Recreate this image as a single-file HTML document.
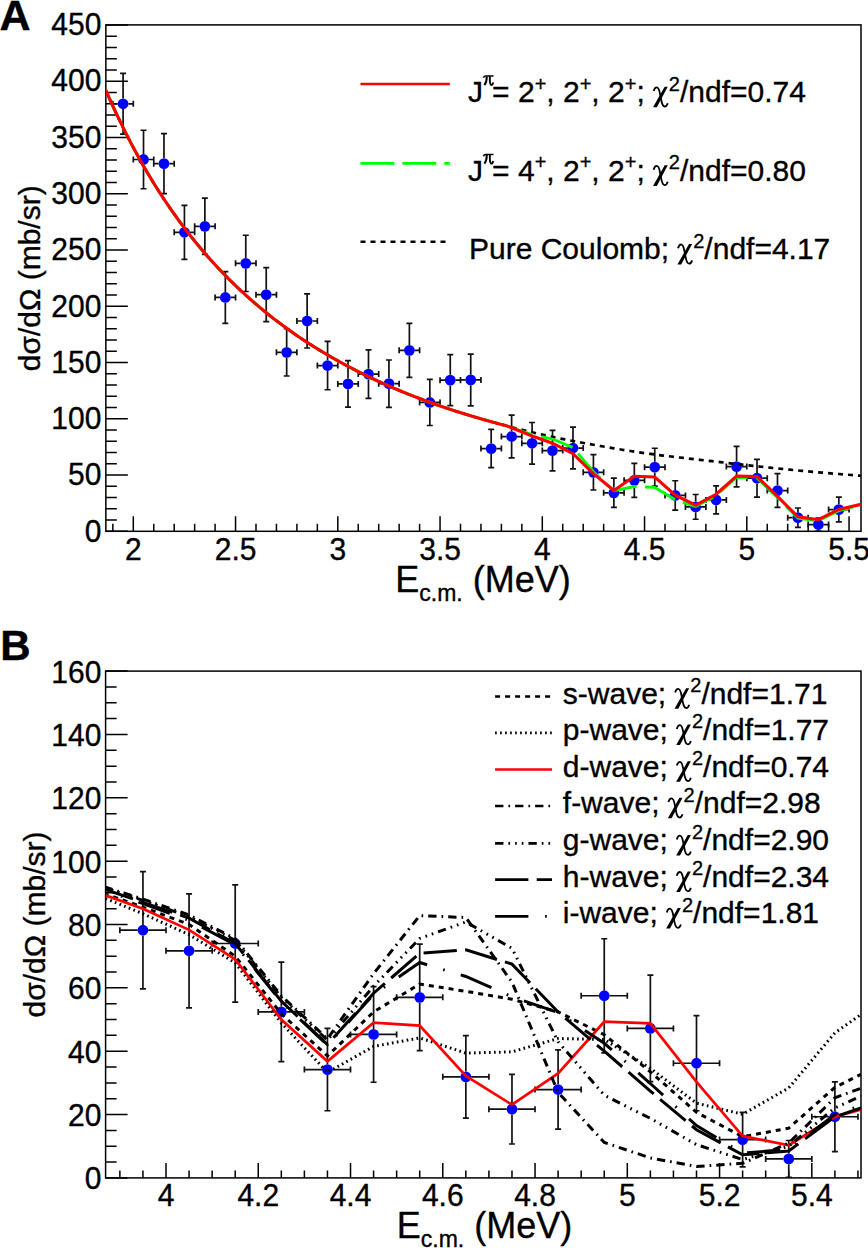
<!DOCTYPE html>
<html><head><meta charset="utf-8"><style>
html,body{margin:0;padding:0;background:#fff;overflow:hidden;width:868px;height:1248px;}
svg{display:block;}
.t{font-family:"Liberation Sans",sans-serif;font-size:30px;fill:#000;stroke:#000;stroke-width:0.35px;}
.ti{font-family:"Liberation Sans",sans-serif;font-size:30px;fill:#000;}
.gr{font-family:"Liberation Serif",serif;font-style:italic;}
</style></head><body>
<svg width="868" height="1248" viewBox="0 0 868 1248">
<rect width="868" height="1248" fill="#fff"/>
<defs>
<clipPath id="cA"><rect x="105.85" y="24.9" width="755.15" height="506.4"/></clipPath>
<clipPath id="cB"><rect x="105.6" y="671.1" width="755.4" height="506.8"/></clipPath>
</defs>

<text x="-0.5" y="29.6" style="font-family:'Liberation Sans',sans-serif;font-weight:bold;font-size:43px;stroke:#000;stroke-width:0.4px">A</text>
<text x="0.3" y="660.4" style="font-family:'Liberation Sans',sans-serif;font-weight:bold;font-size:42px;stroke:#000;stroke-width:0.4px">B</text>
<path d="M105.85 531.3h22 M105.85 520.05h11 M105.85 508.79h11 M105.85 497.54h11 M105.85 486.29h11 M105.85 475.03h22 M105.85 463.78h11 M105.85 452.53h11 M105.85 441.27h11 M105.85 430.02h11 M105.85 418.77h22 M105.85 407.51h11 M105.85 396.26h11 M105.85 385.01h11 M105.85 373.75h11 M105.85 362.5h22 M105.85 351.25h11 M105.85 339.99h11 M105.85 328.74h11 M105.85 317.49h11 M105.85 306.23h22 M105.85 294.98h11 M105.85 283.73h11 M105.85 272.47h11 M105.85 261.22h11 M105.85 249.97h22 M105.85 238.71h11 M105.85 227.46h11 M105.85 216.21h11 M105.85 204.95h11 M105.85 193.7h22 M105.85 182.45h11 M105.85 171.19h11 M105.85 159.94h11 M105.85 148.69h11 M105.85 137.43h22 M105.85 126.18h11 M105.85 114.93h11 M105.85 103.67h11 M105.85 92.42h11 M105.85 81.17h22 M105.85 69.91h11 M105.85 58.66h11 M105.85 47.41h11 M105.85 36.15h11 M105.85 24.9h22 M112.85 531.3v-7.5 M133.3 531.3v-15 M153.75 531.3v-7.5 M174.2 531.3v-7.5 M194.65 531.3v-7.5 M215.1 531.3v-7.5 M235.55 531.3v-15 M256 531.3v-7.5 M276.45 531.3v-7.5 M296.9 531.3v-7.5 M317.35 531.3v-7.5 M337.8 531.3v-15 M358.25 531.3v-7.5 M378.7 531.3v-7.5 M399.15 531.3v-7.5 M419.6 531.3v-7.5 M440.05 531.3v-15 M460.5 531.3v-7.5 M480.95 531.3v-7.5 M501.4 531.3v-7.5 M521.85 531.3v-7.5 M542.3 531.3v-15 M562.75 531.3v-7.5 M583.2 531.3v-7.5 M603.65 531.3v-7.5 M624.1 531.3v-7.5 M644.55 531.3v-15 M665 531.3v-7.5 M685.45 531.3v-7.5 M705.9 531.3v-7.5 M726.35 531.3v-7.5 M746.8 531.3v-15 M767.25 531.3v-7.5 M787.7 531.3v-7.5 M808.15 531.3v-7.5 M828.6 531.3v-7.5 M849.05 531.3v-15" stroke="#000" stroke-width="1.5" fill="none"/>
<rect x="105.85" y="24.9" width="755.15" height="506.4" fill="none" stroke="#000" stroke-width="1.5"/>
<text transform="translate(101.4,541.6) scale(1,1.04)" text-anchor="end" class="t">0</text>
<text transform="translate(101.4,485.33) scale(1,1.04)" text-anchor="end" class="t">50</text>
<text transform="translate(101.4,429.07) scale(1,1.04)" text-anchor="end" class="t">100</text>
<text transform="translate(101.4,372.8) scale(1,1.04)" text-anchor="end" class="t">150</text>
<text transform="translate(101.4,316.53) scale(1,1.04)" text-anchor="end" class="t">200</text>
<text transform="translate(101.4,260.27) scale(1,1.04)" text-anchor="end" class="t">250</text>
<text transform="translate(101.4,204) scale(1,1.04)" text-anchor="end" class="t">300</text>
<text transform="translate(101.4,147.73) scale(1,1.04)" text-anchor="end" class="t">350</text>
<text transform="translate(101.4,91.47) scale(1,1.04)" text-anchor="end" class="t">400</text>
<text transform="translate(101.4,35.2) scale(1,1.04)" text-anchor="end" class="t">450</text>
<text transform="translate(133.3,559.8) scale(1,1.04)" text-anchor="middle" class="t">2</text>
<text transform="translate(235.55,559.8) scale(1,1.04)" text-anchor="middle" class="t">2.5</text>
<text transform="translate(337.8,559.8) scale(1,1.04)" text-anchor="middle" class="t">3</text>
<text transform="translate(440.05,559.8) scale(1,1.04)" text-anchor="middle" class="t">3.5</text>
<text transform="translate(542.3,559.8) scale(1,1.04)" text-anchor="middle" class="t">4</text>
<text transform="translate(644.55,559.8) scale(1,1.04)" text-anchor="middle" class="t">4.5</text>
<text transform="translate(746.8,559.8) scale(1,1.04)" text-anchor="middle" class="t">5</text>
<text transform="translate(849.05,559.8) scale(1,1.04)" text-anchor="middle" class="t">5.5</text>
<g clip-path="url(#cA)">
<path d="M123.08 73.4V98.49M123.08 109.09V134.17 M120.08 73.4h6 M120.08 134.17h6 M112.85 103.79H117.78M128.38 103.79H133.3 M112.85 100.79v6M133.3 100.79v6 M143.52 130.23V154.19M143.52 164.79V188.75 M140.52 130.23h6 M140.52 188.75h6 M133.3 159.49H138.22M148.82 159.49H153.75 M133.3 156.49v6M153.75 156.49v6 M163.97 133.72V158.35M163.97 168.95V193.59 M160.97 133.72h6 M160.97 193.59h6 M153.75 163.65H158.67M169.28 163.65H174.2 M153.75 160.65v6M174.2 160.65v6 M184.43 205.29V227M184.43 237.6V259.31 M181.43 205.29h6 M181.43 259.31h6 M174.2 232.3H179.12M189.73 232.3H194.65 M174.2 229.3v6M194.65 229.3v6 M204.88 198.2V221.04M204.88 231.64V254.47 M201.88 198.2h6 M201.88 254.47h6 M194.65 226.34H199.58M210.18 226.34H215.1 M194.65 223.34v6M215.1 223.34v6 M225.33 271.57V292.16M225.33 302.76V323.34 M222.33 271.57h6 M222.33 323.34h6 M215.1 297.46H220.03M230.63 297.46H235.55 M215.1 294.46v6M235.55 294.46v6 M245.77 235.23V258.06M245.77 268.66V291.49 M242.77 235.23h6 M242.77 291.49h6 M235.55 263.36H240.47M251.07 263.36H256 M235.55 260.36v6M256 260.36v6 M266.23 267.64V289.34M266.23 299.94V321.65 M263.23 267.64h6 M263.23 321.65h6 M256 294.64H260.93M271.53 294.64H276.45 M256 291.64v6M276.45 291.64v6 M286.68 328.74V347.07M286.68 357.67V376 M283.68 328.74h6 M283.68 376h6 M276.45 352.37H281.38M291.98 352.37H296.9 M276.45 349.37v6M296.9 349.37v6 M307.12 293.97V315.68M307.12 326.28V347.98 M304.12 293.97h6 M304.12 347.98h6 M296.9 320.98H301.82M312.43 320.98H317.35 M296.9 317.98v6M317.35 317.98v6 M327.58 341.34V360.24M327.58 370.84V389.73 M324.58 341.34h6 M324.58 389.73h6 M317.35 365.54H322.28M332.88 365.54H337.8 M317.35 362.54v6M337.8 362.54v6 M348.02 360.7V378.58M348.02 389.18V407.06 M345.02 360.7h6 M345.02 407.06h6 M337.8 383.88H342.72M353.32 383.88H358.25 M337.8 380.88v6M358.25 380.88v6 M368.48 349.9V368.79M368.48 379.39V398.29 M365.48 349.9h6 M365.48 398.29h6 M358.25 374.09H363.18M373.78 374.09H378.7 M358.25 371.09v6M378.7 371.09v6 M388.93 360.02V378.36M388.93 388.96V407.29 M385.93 360.02h6 M385.93 407.29h6 M378.7 383.66H383.62M394.23 383.66H399.15 M378.7 380.66v6M399.15 380.66v6 M409.38 323.34V345.05M409.38 355.65V377.35 M406.38 323.34h6 M406.38 377.35h6 M399.15 350.35H404.08M414.68 350.35H419.6 M399.15 347.35v6M419.6 347.35v6 M429.83 379.38V397.15M429.83 407.75V425.52 M426.83 379.38h6 M426.83 425.52h6 M419.6 402.45H424.53M435.13 402.45H440.05 M419.6 399.45v6M440.05 399.45v6 M450.27 354.62V374.87M450.27 385.47V405.71 M447.27 354.62h6 M447.27 405.71h6 M440.05 380.17H444.97M455.57 380.17H460.5 M440.05 377.17v6M460.5 377.17v6 M470.72 354.06V374.64M470.72 385.24V405.83 M467.72 354.06h6 M467.72 405.83h6 M460.5 379.94H465.42M476.02 379.94H480.95 M460.5 376.94v6M480.95 376.94v6 M491.18 429.46V443.29M491.18 453.89V467.72 M488.18 429.46h6 M488.18 467.72h6 M480.95 448.59H485.88M496.48 448.59H501.4 M480.95 445.59v6M501.4 445.59v6 M511.63 415.17V431.25M511.63 441.85V457.93 M508.63 415.17h6 M508.63 457.93h6 M501.4 436.55H506.33M516.93 436.55H521.85 M501.4 433.55v6M521.85 433.55v6 M532.08 422.48V438M532.08 448.6V464.12 M529.08 422.48h6 M529.08 464.12h6 M521.85 443.3H526.78M537.38 443.3H542.3 M521.85 440.3v6M542.3 440.3v6 M552.52 430.36V445.31M552.52 455.91V470.87 M549.52 430.36h6 M549.52 470.87h6 M542.3 450.61H547.23M557.82 450.61H562.75 M542.3 447.61v6M562.75 447.61v6 M572.98 427.21V442.73M572.98 453.33V468.84 M569.98 427.21h6 M569.98 468.84h6 M562.75 448.03H567.68M578.28 448.03H583.2 M562.75 445.03v6M583.2 445.03v6 M593.42 454.67V467.03M593.42 477.63V490 M590.42 454.67h6 M590.42 490h6 M583.2 472.33H588.12M598.72 472.33H603.65 M583.2 469.33v6M603.65 469.33v6 M613.88 478.18V487.51M613.88 498.11V507.44 M610.88 478.18h6 M610.88 507.44h6 M603.65 492.81H608.58M619.17 492.81H624.1 M603.65 489.81v6M624.1 489.81v6 M634.33 463.33V475.02M634.33 485.62V497.32 M631.33 463.33h6 M631.33 497.32h6 M624.1 480.32H629.03M639.62 480.32H644.55 M624.1 477.32v6M644.55 477.32v6 M654.77 448.25V461.86M654.77 472.46V486.06 M651.77 448.25h6 M651.77 486.06h6 M644.55 467.16H649.47M660.07 467.16H665 M644.55 464.16v6M665 464.16v6 M675.23 480.77V490.1M675.23 500.7V510.03 M672.23 480.77h6 M672.23 510.03h6 M665 495.4H669.93M680.53 495.4H685.45 M665 492.4v6M685.45 492.4v6 M695.67 494.5V501.58M695.67 512.18V519.26 M692.67 494.5h6 M692.67 519.26h6 M685.45 506.88H690.38M700.97 506.88H705.9 M685.45 503.88v6M705.9 503.88v6 M716.12 485.84V494.6M716.12 505.2V513.97 M713.12 485.84h6 M713.12 513.97h6 M705.9 499.9H710.83M721.42 499.9H726.35 M705.9 496.9v6M726.35 496.9v6 M736.58 446.34V461.29M736.58 471.89V486.85 M733.58 446.34h6 M733.58 486.85h6 M726.35 466.59H731.28M741.88 466.59H746.8 M726.35 463.59v6M746.8 463.59v6 M757.02 459.28V472.88M757.02 483.48V497.09 M754.02 459.28h6 M754.02 497.09h6 M746.8 478.18H751.72M762.32 478.18H767.25 M746.8 475.18v6M767.25 475.18v6 M777.48 473.68V485.26M777.48 495.86V507.44 M774.48 473.68h6 M774.48 507.44h6 M767.25 490.56H772.18M782.78 490.56H787.7 M767.25 487.56v6M787.7 487.56v6 M797.92 508.01V512.38M797.92 522.98V527.36 M794.92 508.01h6 M794.92 527.36h6 M787.7 517.68H792.62M803.22 517.68H808.15 M787.7 514.68v6M808.15 514.68v6 M818.38 518.02V519.25M818.38 529.85V531.07 M815.38 518.02h6 M815.38 531.07h6 M808.15 524.55H813.08M823.67 524.55H828.6 M808.15 521.55v6M828.6 521.55v6 M838.83 497.2V504.28M838.83 514.88V521.96 M835.83 497.2h6 M835.83 521.96h6 M828.6 509.58H833.53M844.12 509.58H849.05 M828.6 506.58v6M849.05 506.58v6" stroke="#111" stroke-width="1.7" fill="none"/>
<g fill="#00f"><circle cx="123.08" cy="103.79" r="5.4"/><circle cx="143.52" cy="159.49" r="5.4"/><circle cx="163.97" cy="163.65" r="5.4"/><circle cx="184.43" cy="232.3" r="5.4"/><circle cx="204.88" cy="226.34" r="5.4"/><circle cx="225.33" cy="297.46" r="5.4"/><circle cx="245.77" cy="263.36" r="5.4"/><circle cx="266.23" cy="294.64" r="5.4"/><circle cx="286.68" cy="352.37" r="5.4"/><circle cx="307.12" cy="320.98" r="5.4"/><circle cx="327.58" cy="365.54" r="5.4"/><circle cx="348.02" cy="383.88" r="5.4"/><circle cx="368.48" cy="374.09" r="5.4"/><circle cx="388.93" cy="383.66" r="5.4"/><circle cx="409.38" cy="350.35" r="5.4"/><circle cx="429.83" cy="402.45" r="5.4"/><circle cx="450.27" cy="380.17" r="5.4"/><circle cx="470.72" cy="379.94" r="5.4"/><circle cx="491.18" cy="448.59" r="5.4"/><circle cx="511.63" cy="436.55" r="5.4"/><circle cx="532.08" cy="443.3" r="5.4"/><circle cx="552.52" cy="450.61" r="5.4"/><circle cx="572.98" cy="448.03" r="5.4"/><circle cx="593.42" cy="472.33" r="5.4"/><circle cx="613.88" cy="492.81" r="5.4"/><circle cx="634.33" cy="480.32" r="5.4"/><circle cx="654.77" cy="467.16" r="5.4"/><circle cx="675.23" cy="495.4" r="5.4"/><circle cx="695.67" cy="506.88" r="5.4"/><circle cx="716.12" cy="499.9" r="5.4"/><circle cx="736.58" cy="466.59" r="5.4"/><circle cx="757.02" cy="478.18" r="5.4"/><circle cx="777.48" cy="490.56" r="5.4"/><circle cx="797.92" cy="517.68" r="5.4"/><circle cx="818.38" cy="524.55" r="5.4"/><circle cx="838.83" cy="509.58" r="5.4"/></g>
<path d="M105.85 90.32 L106.72 92.31 L110.8 101.55 L114.89 110.49 L118.98 119.16 L123.08 127.57 L127.17 135.72 L131.25 143.63 L135.34 151.3 L139.43 158.75 L143.52 165.98 L147.61 173 L151.7 179.83 L155.79 186.46 L159.88 192.9 L163.97 199.17 L168.06 205.26 L172.16 211.19 L176.25 216.95 L180.34 222.57 L184.43 228.03 L188.52 233.35 L192.61 238.53 L196.7 243.58 L200.79 248.5 L204.88 253.29 L208.97 257.97 L213.06 262.52 L217.15 266.97 L221.24 271.3 L225.33 275.53 L229.42 279.66 L233.51 283.69 L237.59 287.62 L241.68 291.46 L245.77 295.21 L249.86 298.87 L253.95 302.45 L258.04 305.94 L262.13 309.36 L266.23 312.7 L270.31 315.97 L274.4 319.17 L278.5 322.29 L282.59 325.35 L286.68 328.34 L290.76 331.26 L294.86 334.12 L298.95 336.92 L303.04 339.67 L307.12 342.35 L311.22 344.98 L315.31 347.55 L319.4 350.07 L323.49 352.54 L327.58 354.95 L331.67 357.32 L335.76 359.64 L339.84 361.92 L343.93 364.14 L348.02 366.33 L352.12 368.47 L356.2 370.57 L360.29 372.63 L364.38 374.66 L368.48 376.64 L372.56 378.59 L376.65 380.51 L380.75 382.38 L384.84 384.22 L388.93 386.03 L393.02 387.8 L397.11 389.54 L401.2 391.25 L405.29 392.93 L409.38 394.57 L413.47 396.18 L417.56 397.76 L421.65 399.31 L425.74 400.83 L429.83 402.33 L433.92 403.79 L438.01 405.23 L442.09 406.64 L446.18 408.02 L450.27 409.38 L454.36 410.71 L458.45 412.02 L462.54 413.3 L466.63 414.56 L470.72 415.8 L474.81 417.02 L478.9 418.22 L483 419.4 L487.08 420.56 L491.18 421.7 L495.27 422.82 L499.36 423.93 L503.45 425.02 L507.54 426.1 L511.63 427.17 L515.72 428.22 L519.81 429.26 L523.89 430.28 L527.99 431.29 L532.08 432.28 L536.17 433.25 L540.26 434.2 L544.35 435.12 L548.44 436.03 L552.52 436.91 L556.62 437.77 L560.7 438.61 L564.8 439.42 L568.88 440.22 L572.98 441.01 L577.07 441.78 L581.16 442.54 L585.25 443.28 L589.34 444.03 L593.42 444.76 L597.51 445.49 L601.61 446.21 L605.69 446.93 L609.79 447.64 L613.88 448.34 L617.97 449.03 L622.05 449.71 L626.14 450.37 L630.23 451.01 L634.33 451.64 L638.41 452.25 L642.51 452.84 L646.6 453.41 L650.69 453.96 L654.77 454.5 L658.87 455.03 L662.95 455.54 L667.05 456.04 L671.13 456.53 L675.23 457.01 L679.32 457.49 L683.41 457.96 L687.49 458.43 L691.59 458.89 L695.67 459.36 L699.76 459.82 L703.86 460.28 L707.94 460.74 L712.04 461.2 L716.12 461.67 L720.22 462.14 L724.3 462.6 L728.39 463.07 L732.48 463.54 L736.58 464 L740.66 464.46 L744.76 464.92 L748.85 465.38 L752.94 465.83 L757.02 466.28 L761.12 466.73 L765.2 467.16 L769.3 467.6 L773.38 468.03 L777.48 468.45 L781.57 468.86 L785.66 469.27 L789.74 469.67 L793.84 470.07 L797.92 470.45 L802.01 470.83 L806.11 471.21 L810.19 471.58 L814.29 471.94 L818.38 472.3 L822.47 472.65 L826.55 473 L830.64 473.35 L834.73 473.69 L838.83 474.02 L842.91 474.35 L847.01 474.68 L851.1 475 L855.19 475.32 L859.27 475.63 L861 475.76" stroke="#000" stroke-width="2.7" fill="none" stroke-linejoin="miter" stroke-dasharray="5 5" stroke-dashoffset="0"/>
<path d="M105.85 90.32 L106.72 92.31 L110.8 101.55 L114.89 110.49 L118.98 119.16 L123.08 127.57 L127.17 135.72 L131.25 143.63 L135.34 151.3 L139.43 158.75 L143.52 165.98 L147.61 173 L151.7 179.83 L155.79 186.46 L159.88 192.9 L163.97 199.17 L168.06 205.26 L172.16 211.19 L176.25 216.95 L180.34 222.57 L184.43 228.03 L188.52 233.35 L192.61 238.53 L196.7 243.58 L200.79 248.5 L204.88 253.29 L208.97 257.97 L213.06 262.52 L217.15 266.97 L221.24 271.3 L225.33 275.53 L229.42 279.66 L233.51 283.69 L237.59 287.62 L241.68 291.46 L245.77 295.21 L249.86 298.87 L253.95 302.45 L258.04 305.94 L262.13 309.36 L266.23 312.7 L270.31 315.97 L274.4 319.17 L278.5 322.29 L282.59 325.35 L286.68 328.34 L290.76 331.26 L294.86 334.12 L298.95 336.92 L303.04 339.67 L307.12 342.35 L311.22 344.98 L315.31 347.55 L319.4 350.07 L323.49 352.54 L327.58 354.95 L331.67 357.32 L335.76 359.64 L339.84 361.92 L343.93 364.14 L348.02 366.33 L352.12 368.47 L356.2 370.57 L360.29 372.63 L364.38 374.66 L368.48 376.64 L372.56 378.59 L376.65 380.51 L380.75 382.38 L384.84 384.22 L388.93 386.03 L393.02 387.8 L397.11 389.54 L401.2 391.25 L405.29 392.93 L409.38 394.57 L413.47 396.18 L417.56 397.76 L421.65 399.31 L425.74 400.83 L429.83 402.33 L433.92 403.79 L438.01 405.23 L442.09 406.64 L446.18 408.02 L450.27 409.38 L454.36 410.71 L458.45 412.02 L462.54 413.3 L466.63 414.56 L470.72 415.8 L474.81 417.02 L478.9 418.22 L483 419.4 L487.08 420.56 L491.18 421.7 L495.27 422.82 L499.36 423.93 L503.45 425.02 L507.54 426.1 L511.63 427.77 L532.08 434.52 L552.52 439.02 L572.98 447.58 L593.42 471.77 L613.88 490.79 L634.33 486.51 L654.77 487.41 L675.23 499.79 L695.67 506.43 L716.12 495.51 L736.58 477.28 L757.02 477.85 L777.48 497.54 L797.92 518.02 L818.38 520.83 L838.83 510.59 L861 505.22" stroke="#00ff00" stroke-width="2.9" fill="none" stroke-linejoin="miter" stroke-dasharray="33.3 8.33" stroke-dashoffset="1.79"/>
<path d="M105.85 90.32 L106.72 92.31 L110.8 101.55 L114.89 110.49 L118.98 119.16 L123.08 127.57 L127.17 135.72 L131.25 143.63 L135.34 151.3 L139.43 158.75 L143.52 165.98 L147.61 173 L151.7 179.83 L155.79 186.46 L159.88 192.9 L163.97 199.17 L168.06 205.26 L172.16 211.19 L176.25 216.95 L180.34 222.57 L184.43 228.03 L188.52 233.35 L192.61 238.53 L196.7 243.58 L200.79 248.5 L204.88 253.29 L208.97 257.97 L213.06 262.52 L217.15 266.97 L221.24 271.3 L225.33 275.53 L229.42 279.66 L233.51 283.69 L237.59 287.62 L241.68 291.46 L245.77 295.21 L249.86 298.87 L253.95 302.45 L258.04 305.94 L262.13 309.36 L266.23 312.7 L270.31 315.97 L274.4 319.17 L278.5 322.29 L282.59 325.35 L286.68 328.34 L290.76 331.26 L294.86 334.12 L298.95 336.92 L303.04 339.67 L307.12 342.35 L311.22 344.98 L315.31 347.55 L319.4 350.07 L323.49 352.54 L327.58 354.95 L331.67 357.32 L335.76 359.64 L339.84 361.92 L343.93 364.14 L348.02 366.33 L352.12 368.47 L356.2 370.57 L360.29 372.63 L364.38 374.66 L368.48 376.64 L372.56 378.59 L376.65 380.51 L380.75 382.38 L384.84 384.22 L388.93 386.03 L393.02 387.8 L397.11 389.54 L401.2 391.25 L405.29 392.93 L409.38 394.57 L413.47 396.18 L417.56 397.76 L421.65 399.31 L425.74 400.83 L429.83 402.33 L433.92 403.79 L438.01 405.23 L442.09 406.64 L446.18 408.02 L450.27 409.38 L454.36 410.71 L458.45 412.02 L462.54 413.3 L466.63 414.56 L470.72 415.8 L474.81 417.02 L478.9 418.22 L483 419.4 L487.08 420.56 L491.18 421.7 L495.27 422.82 L499.36 423.93 L503.45 425.02 L507.54 426.1 L511.63 427.77 L532.08 435.98 L552.52 443.19 L572.98 453.65 L593.42 473.68 L613.88 490.45 L634.33 476.27 L654.77 477.06 L675.23 495.18 L695.67 505.19 L716.12 494.28 L736.58 476.05 L757.02 476.61 L777.48 496.41 L797.92 516.9 L818.38 519.71 L838.83 509.47 L861 504.34" stroke="#ff0000" stroke-width="3.1" fill="none" stroke-linejoin="miter"/>
</g>
<text transform="translate(39.9,371.3) rotate(-90)" class="t">dσ/dΩ (mb/sr)</text>
<text x="395.3" y="592.1" class="t" style="font-size:36px">E<tspan font-size="23" dy="8.5">c.m.</tspan><tspan dy="-8.5"> (MeV)</tspan></text>
<path d="M360.5 84H449.8" stroke="#f00" stroke-width="2.6"/>
<path d="M360.5 163.4H449.8" stroke="#0f0" stroke-width="2.6" stroke-dasharray="33.8 8.1"/>
<path d="M360.5 241.8H446" stroke="#000" stroke-width="2.6" stroke-dasharray="5 5"/>
<text x="468.1" y="102" class="t" style="white-space:pre">J</text>
<g transform="translate(483.1,86)" fill="none" stroke="#000"><path d="M0.3 -8.2C0.8 -9.4 1.5 -10.1 2.5 -10.1L10.4 -10.1" stroke-width="1.5"/><path d="M3.7 -9.6C3.7 -6 2.9 -3 1.3 -0.9" stroke-width="2"/><path d="M6.8 -9.6C6.6 -6 6.8 -2.2 7.8 -1.2C8.7 -0.6 9.6 -1.5 10.2 -3.6" stroke-width="1.9"/></g>
<text x="492.1" y="102" class="t" style="white-space:pre">= 2</text>
<text x="534.63" y="90.5" class="t" style="font-size:20px;stroke-width:0.3px">+</text>
<text x="546.32" y="102" class="t" style="white-space:pre">, 2</text>
<text x="579.66" y="90.5" class="t" style="font-size:20px;stroke-width:0.3px">+</text>
<text x="591.35" y="102" class="t" style="white-space:pre">, 2</text>
<text x="624.69" y="90.5" class="t" style="font-size:20px;stroke-width:0.3px">+</text>
<text x="636.38" y="102" class="t" style="white-space:pre">; </text>
<g transform="translate(653.04,102)"><path d="M11.6 -15.3L14.7 -15.3L3.8 5.3L0 5.3Z" fill="#000"/><path d="M0.6 -10.9C1.4 -13.6 2.4 -14.7 3.6 -14.7C5.4 -14.7 6.2 -12.5 6.9 -8.6L8.4 -1C9.2 3 10.3 4.5 11.8 4.5C13 4.5 14.1 3 14.7 1.2" fill="none" stroke="#000" stroke-width="1.8"/></g>
<text x="668.84" y="90.5" class="t" style="font-size:20px;stroke-width:0.3px">2</text>
<text x="679.96" y="102" class="t" style="white-space:pre">/ndf=0.74</text>
<text x="468.1" y="180.6" class="t" style="white-space:pre">J</text>
<g transform="translate(483.1,164.6)" fill="none" stroke="#000"><path d="M0.3 -8.2C0.8 -9.4 1.5 -10.1 2.5 -10.1L10.4 -10.1" stroke-width="1.5"/><path d="M3.7 -9.6C3.7 -6 2.9 -3 1.3 -0.9" stroke-width="2"/><path d="M6.8 -9.6C6.6 -6 6.8 -2.2 7.8 -1.2C8.7 -0.6 9.6 -1.5 10.2 -3.6" stroke-width="1.9"/></g>
<text x="492.1" y="180.6" class="t" style="white-space:pre">= 4</text>
<text x="534.63" y="169.1" class="t" style="font-size:20px;stroke-width:0.3px">+</text>
<text x="546.32" y="180.6" class="t" style="white-space:pre">, 2</text>
<text x="579.66" y="169.1" class="t" style="font-size:20px;stroke-width:0.3px">+</text>
<text x="591.35" y="180.6" class="t" style="white-space:pre">, 2</text>
<text x="624.69" y="169.1" class="t" style="font-size:20px;stroke-width:0.3px">+</text>
<text x="636.38" y="180.6" class="t" style="white-space:pre">; </text>
<g transform="translate(653.04,180.6)"><path d="M11.6 -15.3L14.7 -15.3L3.8 5.3L0 5.3Z" fill="#000"/><path d="M0.6 -10.9C1.4 -13.6 2.4 -14.7 3.6 -14.7C5.4 -14.7 6.2 -12.5 6.9 -8.6L8.4 -1C9.2 3 10.3 4.5 11.8 4.5C13 4.5 14.1 3 14.7 1.2" fill="none" stroke="#000" stroke-width="1.8"/></g>
<text x="668.84" y="169.1" class="t" style="font-size:20px;stroke-width:0.3px">2</text>
<text x="679.96" y="180.6" class="t" style="white-space:pre">/ndf=0.80</text>
<text x="469" y="259.2" class="t" style="white-space:pre">Pure Coulomb; </text>
<g transform="translate(677.44,259.2)"><path d="M11.6 -15.3L14.7 -15.3L3.8 5.3L0 5.3Z" fill="#000"/><path d="M0.6 -10.9C1.4 -13.6 2.4 -14.7 3.6 -14.7C5.4 -14.7 6.2 -12.5 6.9 -8.6L8.4 -1C9.2 3 10.3 4.5 11.8 4.5C13 4.5 14.1 3 14.7 1.2" fill="none" stroke="#000" stroke-width="1.8"/></g>
<text x="693.24" y="247.7" class="t" style="font-size:20px;stroke-width:0.3px">2</text>
<text x="704.36" y="259.2" class="t" style="white-space:pre">/ndf=4.17</text>
<path d="M105.6 1177.9h22 M105.6 1162.06h11 M105.6 1146.23h11 M105.6 1130.39h11 M105.6 1114.55h22 M105.6 1098.71h11 M105.6 1082.88h11 M105.6 1067.04h11 M105.6 1051.2h22 M105.6 1035.36h11 M105.6 1019.53h11 M105.6 1003.69h11 M105.6 987.85h22 M105.6 972.01h11 M105.6 956.18h11 M105.6 940.34h11 M105.6 924.5h22 M105.6 908.66h11 M105.6 892.83h11 M105.6 876.99h11 M105.6 861.15h22 M105.6 845.31h11 M105.6 829.48h11 M105.6 813.64h11 M105.6 797.8h22 M105.6 781.96h11 M105.6 766.13h11 M105.6 750.29h11 M105.6 734.45h22 M105.6 718.61h11 M105.6 702.78h11 M105.6 686.94h11 M105.6 671.1h22 M119.87 1177.9v-7.5 M142.94 1177.9v-7.5 M166 1177.9v-15 M189.06 1177.9v-7.5 M212.13 1177.9v-7.5 M235.2 1177.9v-7.5 M258.26 1177.9v-15 M281.32 1177.9v-7.5 M304.39 1177.9v-7.5 M327.45 1177.9v-7.5 M350.52 1177.9v-15 M373.59 1177.9v-7.5 M396.65 1177.9v-7.5 M419.71 1177.9v-7.5 M442.78 1177.9v-15 M465.85 1177.9v-7.5 M488.91 1177.9v-7.5 M511.98 1177.9v-7.5 M535.04 1177.9v-15 M558.1 1177.9v-7.5 M581.17 1177.9v-7.5 M604.24 1177.9v-7.5 M627.3 1177.9v-15 M650.37 1177.9v-7.5 M673.43 1177.9v-7.5 M696.5 1177.9v-7.5 M719.56 1177.9v-15 M742.62 1177.9v-7.5 M765.69 1177.9v-7.5 M788.75 1177.9v-7.5 M811.82 1177.9v-15 M834.89 1177.9v-7.5 M857.95 1177.9v-7.5" stroke="#000" stroke-width="1.5" fill="none"/>
<rect x="105.6" y="671.1" width="755.4" height="506.8" fill="none" stroke="#000" stroke-width="1.5"/>
<text transform="translate(101.4,1189.3) scale(1,1.04)" text-anchor="end" class="t">0</text>
<text transform="translate(101.4,1125.95) scale(1,1.04)" text-anchor="end" class="t">20</text>
<text transform="translate(101.4,1062.6) scale(1,1.04)" text-anchor="end" class="t">40</text>
<text transform="translate(101.4,999.25) scale(1,1.04)" text-anchor="end" class="t">60</text>
<text transform="translate(101.4,935.9) scale(1,1.04)" text-anchor="end" class="t">80</text>
<text transform="translate(101.4,872.55) scale(1,1.04)" text-anchor="end" class="t">100</text>
<text transform="translate(101.4,809.2) scale(1,1.04)" text-anchor="end" class="t">120</text>
<text transform="translate(101.4,745.85) scale(1,1.04)" text-anchor="end" class="t">140</text>
<text transform="translate(101.4,682.5) scale(1,1.04)" text-anchor="end" class="t">160</text>
<text transform="translate(166,1205.9) scale(1,1.04)" text-anchor="middle" class="t">4</text>
<text transform="translate(258.26,1205.9) scale(1,1.04)" text-anchor="middle" class="t">4.2</text>
<text transform="translate(350.52,1205.9) scale(1,1.04)" text-anchor="middle" class="t">4.4</text>
<text transform="translate(442.78,1205.9) scale(1,1.04)" text-anchor="middle" class="t">4.6</text>
<text transform="translate(535.04,1205.9) scale(1,1.04)" text-anchor="middle" class="t">4.8</text>
<text transform="translate(627.3,1205.9) scale(1,1.04)" text-anchor="middle" class="t">5</text>
<text transform="translate(719.56,1205.9) scale(1,1.04)" text-anchor="middle" class="t">5.2</text>
<text transform="translate(811.82,1205.9) scale(1,1.04)" text-anchor="middle" class="t">5.4</text>
<g clip-path="url(#cB)">
<path d="M142.94 871.6V924.9M142.94 935.5V988.8 M139.94 871.6h6 M139.94 988.8h6 M119.87 930.2H137.64M148.24 930.2H166 M119.87 927.2v6M166 927.2v6 M189.06 893.78V945.49M189.06 956.09V1007.81 M186.06 893.78h6 M186.06 1007.81h6 M166 950.79H183.76M194.36 950.79H212.13 M166 947.79v6M212.13 947.79v6 M235.2 884.91V938.21M235.2 948.81V1002.1 M232.2 884.91h6 M232.2 1002.1h6 M212.13 943.51H229.9M240.5 943.51H258.26 M212.13 940.51v6M258.26 940.51v6 M281.32 962.19V1006.62M281.32 1017.22V1061.65 M278.32 962.19h6 M278.32 1061.65h6 M258.26 1011.92H276.02M286.62 1011.92H304.39 M258.26 1008.92v6M304.39 1008.92v6 M327.45 1028.39V1064.27M327.45 1074.87V1110.75 M324.45 1028.39h6 M324.45 1110.75h6 M304.39 1069.57H322.15M332.75 1069.57H350.52 M304.39 1066.57v6M350.52 1066.57v6 M373.59 986.58V1029.11M373.59 1039.71V1082.24 M370.59 986.58h6 M370.59 1082.24h6 M350.52 1034.41H368.29M378.89 1034.41H396.65 M350.52 1031.41v6M396.65 1031.41v6 M419.71 944.14V992.05M419.71 1002.65V1050.57 M416.71 944.14h6 M416.71 1050.57h6 M396.65 997.35H414.41M425.01 997.35H442.78 M396.65 994.35v6M442.78 994.35v6 M465.85 1035.68V1071.56M465.85 1082.16V1118.03 M462.85 1035.68h6 M462.85 1118.03h6 M442.78 1076.86H460.55M471.15 1076.86H488.91 M442.78 1073.86v6M488.91 1073.86v6 M511.98 1074.32V1103.87M511.98 1114.47V1144.01 M508.98 1074.32h6 M508.98 1144.01h6 M488.91 1109.17H506.68M517.27 1109.17H535.04 M488.91 1106.17v6M535.04 1106.17v6 M558.1 1049.93V1084.23M558.1 1094.83V1129.12 M555.1 1049.93h6 M555.1 1129.12h6 M535.04 1089.53H552.8M563.4 1089.53H581.17 M535.04 1086.53v6M581.17 1086.53v6 M604.24 938.75V990.47M604.24 1001.07V1052.78 M601.24 938.75h6 M601.24 1052.78h6 M581.17 995.77H598.94M609.54 995.77H627.3 M581.17 992.77v6M627.3 992.77v6 M650.37 975.18V1023.09M650.37 1033.69V1081.61 M647.37 975.18h6 M647.37 1081.61h6 M627.3 1028.39H645.07M655.66 1028.39H673.43 M627.3 1025.39v6M673.43 1025.39v6 M696.5 1015.72V1057.94M696.5 1068.54V1110.75 M693.5 1015.72h6 M693.5 1110.75h6 M673.43 1063.24H691.2M701.8 1063.24H719.56 M673.43 1060.24v6M719.56 1060.24v6 M742.62 1112.33V1134.27M742.62 1144.87V1166.81 M739.62 1112.33h6 M739.62 1166.81h6 M719.56 1139.57H737.33M747.92 1139.57H765.69 M719.56 1136.57v6M765.69 1136.57v6 M788.75 1140.52V1153.6M788.75 1164.19V1177.27 M785.75 1140.52h6 M785.75 1177.27h6 M765.69 1158.89H783.45M794.05 1158.89H811.82 M765.69 1155.89v6M811.82 1155.89v6 M834.89 1081.92V1111.47M834.89 1122.07V1151.61 M831.89 1081.92h6 M831.89 1151.61h6 M811.82 1116.77H829.59M840.19 1116.77H857.95 M811.82 1113.77v6M857.95 1113.77v6" stroke="#111" stroke-width="1.7" fill="none"/>
<g fill="#00f"><circle cx="142.94" cy="930.2" r="5.4"/><circle cx="189.06" cy="950.79" r="5.4"/><circle cx="235.2" cy="943.51" r="5.4"/><circle cx="281.32" cy="1011.92" r="5.4"/><circle cx="327.45" cy="1069.57" r="5.4"/><circle cx="373.59" cy="1034.41" r="5.4"/><circle cx="419.71" cy="997.35" r="5.4"/><circle cx="465.85" cy="1076.86" r="5.4"/><circle cx="511.98" cy="1109.17" r="5.4"/><circle cx="558.1" cy="1089.53" r="5.4"/><circle cx="604.24" cy="995.77" r="5.4"/><circle cx="650.37" cy="1028.39" r="5.4"/><circle cx="696.5" cy="1063.24" r="5.4"/><circle cx="742.62" cy="1139.57" r="5.4"/><circle cx="788.75" cy="1158.89" r="5.4"/><circle cx="834.89" cy="1116.77" r="5.4"/></g>
<path d="M105.6 894.09 L142.94 907.08 L189.06 924.5 L235.2 956.18 L281.32 1013.82 L327.45 1055.95 L373.59 1011.92 L419.71 984.05 L465.85 991.33 L511.98 999.25 L558.1 1011.92 L604.24 1034.73 L650.37 1071.79 L696.5 1112.33 L742.62 1136.72 L788.75 1128.17 L834.89 1087.31 L861 1074.32" stroke="#000" stroke-width="3.0" fill="none" stroke-linejoin="miter" stroke-dasharray="5 5" stroke-dashoffset="2.02"/>
<path d="M105.6 898.53 L142.94 913.73 L189.06 934.64 L235.2 962.83 L281.32 1023.01 L327.45 1072.42 L373.59 1046.45 L419.71 1037.9 L465.85 1053.1 L511.98 1051.83 L558.1 1038.53 L604.24 1039.48 L650.37 1068.3 L696.5 1103.15 L742.62 1114.23 L788.75 1087.94 L834.89 1032.83 L861 1014.46" stroke="#000" stroke-width="3.0" fill="none" stroke-linejoin="miter" stroke-dasharray="1.67 3.33"/>
<path d="M105.6 895.36 L142.94 908.66 L189.06 929.88 L235.2 959.34 L281.32 1019.53 L327.45 1061.34 L373.59 1022.69 L419.71 1025.54 L465.85 1075.91 L511.98 1104.73 L558.1 1073.37 L604.24 1021.74 L650.37 1023.33 L696.5 1081.92 L742.62 1136.09 L788.75 1145.27 L834.89 1116.77 L861 1109.48" stroke="#ff0000" stroke-width="2.7" fill="none" stroke-linejoin="miter"/>
<path d="M105.6 887.12 L142.94 899.16 L189.06 915 L235.2 938.75 L281.32 995.77 L327.45 1038.85 L373.59 973.6 L419.71 915.63 L465.85 917.53 L511.98 982.15 L558.1 1092.38 L604.24 1142.42 L650.37 1157.94 L696.5 1166.5 L742.62 1163.33 L788.75 1143.06 L834.89 1097.76 L861 1088.26" stroke="#000" stroke-width="3.0" fill="none" stroke-linejoin="miter" stroke-dasharray="8.33 5 1.67 5" stroke-dashoffset="1.16"/>
<path d="M105.6 888.07 L142.94 900.43 L189.06 916.58 L235.2 940.34 L281.32 997.35 L327.45 1040.11 L373.59 986.27 L419.71 938.44 L465.85 921.97 L511.98 948.26 L558.1 1041.7 L604.24 1095.23 L650.37 1118.35 L696.5 1144.64 L742.62 1159.53 L788.75 1146.23 L834.89 1107.9 L861 1096.18" stroke="#000" stroke-width="3.0" fill="none" stroke-linejoin="miter" stroke-dasharray="8.33 5 1.67 5 1.67 5 1.67 5" stroke-dashoffset="0.31"/>
<path d="M105.6 889.66 L142.94 902.33 L189.06 918.17 L235.2 943.51 L281.32 1001.15 L327.45 1044.55 L373.59 993.23 L419.71 953.32 L465.85 949.84 L511.98 964.09 L558.1 1011.92 L604.24 1051.2 L650.37 1091.11 L696.5 1129.75 L742.62 1154.78 L788.75 1150.98 L834.89 1116.77 L861 1107.9" stroke="#000" stroke-width="3.0" fill="none" stroke-linejoin="miter" stroke-dasharray="33.3 8.33" stroke-dashoffset="4.4"/>
<path d="M105.6 890.92 L142.94 903.59 L189.06 920.38 L235.2 944.77 L281.32 1001.79 L327.45 1045.18 L373.59 994.5 L419.71 962.51 L465.85 976.45 L511.98 996.72 L558.1 1012.56 L604.24 1043.28 L650.37 1083.51 L696.5 1125.64 L742.62 1153.19 L788.75 1149.39 L834.89 1114.55 L861 1105.68" stroke="#000" stroke-width="3.0" fill="none" stroke-linejoin="miter" stroke-dasharray="33.3 16.7 1.67 16.7" stroke-dashoffset="33.72"/>
</g>
<text transform="translate(45.3,1017.5) rotate(-90)" class="t">dσ/dΩ (mb/sr)</text>
<text x="396.8" y="1238.4" class="t" style="font-size:36px">E<tspan font-size="23" dy="8.5">c.m.</tspan><tspan dy="-8.5"> (MeV)</tspan></text>
<path d="M495.1 696.5H552" stroke="#000" stroke-width="2.7" stroke-dasharray="5 5"/>
<text x="562.8" y="703.5" class="t" style="white-space:pre">s-wave; </text>
<g transform="translate(674.49,703.5)"><path d="M11.6 -15.3L14.7 -15.3L3.8 5.3L0 5.3Z" fill="#000"/><path d="M0.6 -10.9C1.4 -13.6 2.4 -14.7 3.6 -14.7C5.4 -14.7 6.2 -12.5 6.9 -8.6L8.4 -1C9.2 3 10.3 4.5 11.8 4.5C13 4.5 14.1 3 14.7 1.2" fill="none" stroke="#000" stroke-width="1.8"/></g>
<text x="690.29" y="692" class="t" style="font-size:20px;stroke-width:0.3px">2</text>
<text x="701.41" y="703.5" class="t" style="white-space:pre">/ndf=1.71</text>
<path d="M495.1 732.8H552" stroke="#000" stroke-width="2.7" stroke-dasharray="1.67 3.33"/>
<text x="562.8" y="739.8" class="t" style="white-space:pre">p-wave; </text>
<g transform="translate(676.17,739.8)"><path d="M11.6 -15.3L14.7 -15.3L3.8 5.3L0 5.3Z" fill="#000"/><path d="M0.6 -10.9C1.4 -13.6 2.4 -14.7 3.6 -14.7C5.4 -14.7 6.2 -12.5 6.9 -8.6L8.4 -1C9.2 3 10.3 4.5 11.8 4.5C13 4.5 14.1 3 14.7 1.2" fill="none" stroke="#000" stroke-width="1.8"/></g>
<text x="691.97" y="728.3" class="t" style="font-size:20px;stroke-width:0.3px">2</text>
<text x="703.1" y="739.8" class="t" style="white-space:pre">/ndf=1.77</text>
<path d="M495.1 769.5H552" stroke="#ff0000" stroke-width="2.7"/>
<text x="562.8" y="776.5" class="t" style="white-space:pre">d-wave; </text>
<g transform="translate(676.17,776.5)"><path d="M11.6 -15.3L14.7 -15.3L3.8 5.3L0 5.3Z" fill="#000"/><path d="M0.6 -10.9C1.4 -13.6 2.4 -14.7 3.6 -14.7C5.4 -14.7 6.2 -12.5 6.9 -8.6L8.4 -1C9.2 3 10.3 4.5 11.8 4.5C13 4.5 14.1 3 14.7 1.2" fill="none" stroke="#000" stroke-width="1.8"/></g>
<text x="691.97" y="765" class="t" style="font-size:20px;stroke-width:0.3px">2</text>
<text x="703.1" y="776.5" class="t" style="white-space:pre">/ndf=0.74</text>
<path d="M495.1 806H552" stroke="#000" stroke-width="2.7" stroke-dasharray="8.33 5 1.67 5"/>
<text x="562.8" y="813" class="t" style="white-space:pre">f-wave; </text>
<g transform="translate(667.82,813)"><path d="M11.6 -15.3L14.7 -15.3L3.8 5.3L0 5.3Z" fill="#000"/><path d="M0.6 -10.9C1.4 -13.6 2.4 -14.7 3.6 -14.7C5.4 -14.7 6.2 -12.5 6.9 -8.6L8.4 -1C9.2 3 10.3 4.5 11.8 4.5C13 4.5 14.1 3 14.7 1.2" fill="none" stroke="#000" stroke-width="1.8"/></g>
<text x="683.62" y="801.5" class="t" style="font-size:20px;stroke-width:0.3px">2</text>
<text x="694.74" y="813" class="t" style="white-space:pre">/ndf=2.98</text>
<path d="M495.1 843.3H552" stroke="#000" stroke-width="2.7" stroke-dasharray="8.33 5 1.67 5 1.67 5 1.67 5"/>
<text x="562.8" y="850.3" class="t" style="white-space:pre">g-wave; </text>
<g transform="translate(676.17,850.3)"><path d="M11.6 -15.3L14.7 -15.3L3.8 5.3L0 5.3Z" fill="#000"/><path d="M0.6 -10.9C1.4 -13.6 2.4 -14.7 3.6 -14.7C5.4 -14.7 6.2 -12.5 6.9 -8.6L8.4 -1C9.2 3 10.3 4.5 11.8 4.5C13 4.5 14.1 3 14.7 1.2" fill="none" stroke="#000" stroke-width="1.8"/></g>
<text x="691.97" y="838.8" class="t" style="font-size:20px;stroke-width:0.3px">2</text>
<text x="703.1" y="850.3" class="t" style="white-space:pre">/ndf=2.90</text>
<path d="M495.1 879.7H552" stroke="#000" stroke-width="2.7" stroke-dasharray="33.3 8.33"/>
<text x="562.8" y="886.7" class="t" style="white-space:pre">h-wave; </text>
<g transform="translate(676.17,886.7)"><path d="M11.6 -15.3L14.7 -15.3L3.8 5.3L0 5.3Z" fill="#000"/><path d="M0.6 -10.9C1.4 -13.6 2.4 -14.7 3.6 -14.7C5.4 -14.7 6.2 -12.5 6.9 -8.6L8.4 -1C9.2 3 10.3 4.5 11.8 4.5C13 4.5 14.1 3 14.7 1.2" fill="none" stroke="#000" stroke-width="1.8"/></g>
<text x="691.97" y="875.2" class="t" style="font-size:20px;stroke-width:0.3px">2</text>
<text x="703.1" y="886.7" class="t" style="white-space:pre">/ndf=2.34</text>
<path d="M495.1 916.3H552" stroke="#000" stroke-width="2.7" stroke-dasharray="33.3 16.7 1.67 16.7"/>
<text x="562.8" y="923.3" class="t" style="white-space:pre">i-wave; </text>
<g transform="translate(666.16,923.3)"><path d="M11.6 -15.3L14.7 -15.3L3.8 5.3L0 5.3Z" fill="#000"/><path d="M0.6 -10.9C1.4 -13.6 2.4 -14.7 3.6 -14.7C5.4 -14.7 6.2 -12.5 6.9 -8.6L8.4 -1C9.2 3 10.3 4.5 11.8 4.5C13 4.5 14.1 3 14.7 1.2" fill="none" stroke="#000" stroke-width="1.8"/></g>
<text x="681.96" y="911.8" class="t" style="font-size:20px;stroke-width:0.3px">2</text>
<text x="693.08" y="923.3" class="t" style="white-space:pre">/ndf=1.81</text>
</svg></body></html>
